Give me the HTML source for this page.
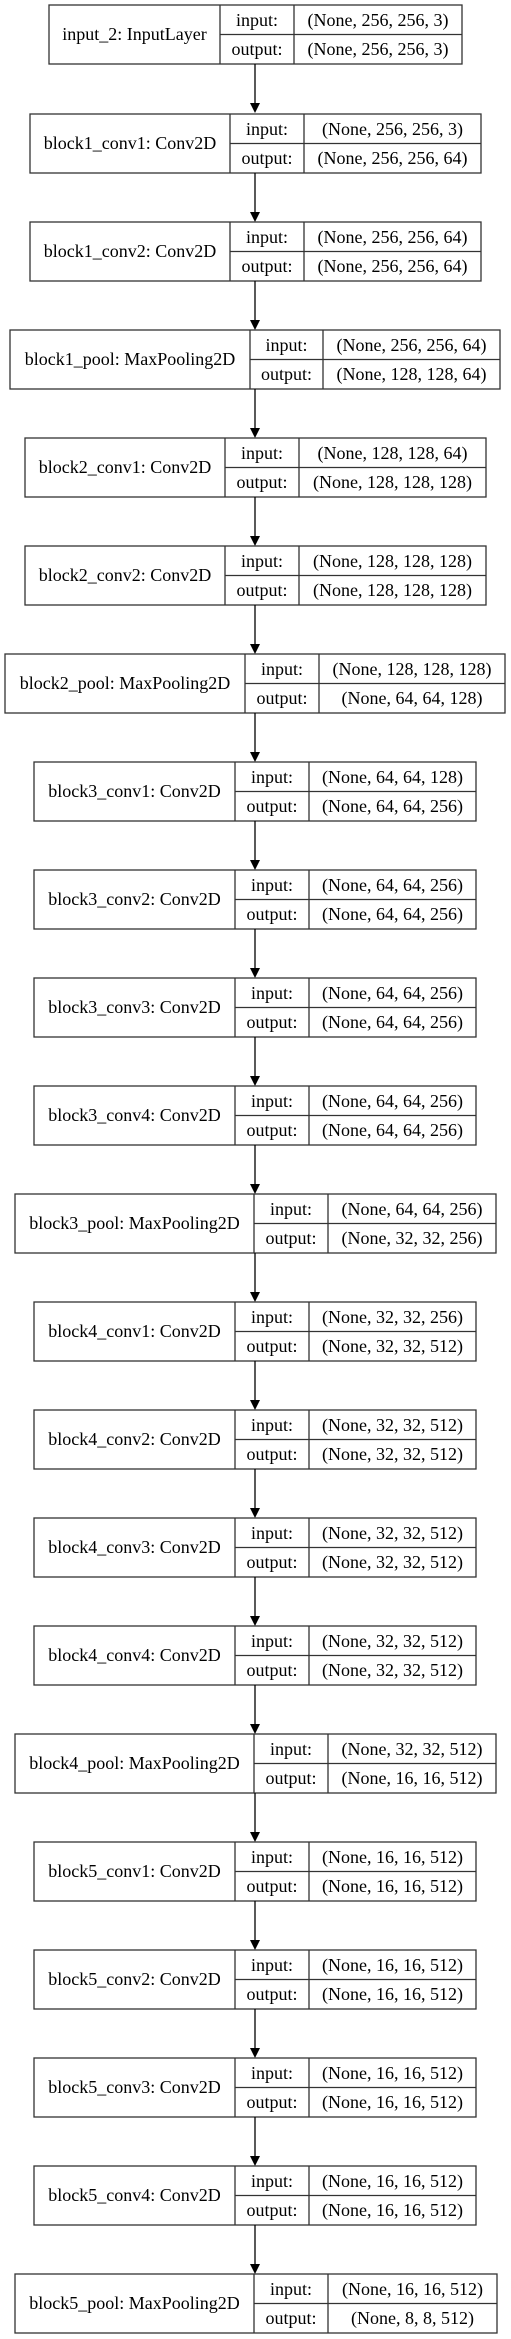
<!DOCTYPE html>
<html><head><meta charset="utf-8"><style>
html,body{margin:0;padding:0;background:#fff;}
svg{display:block;}
text{font-family:"Liberation Serif",serif;font-size:18px;fill:#000;text-anchor:middle;}
rect,line.b{fill:none;stroke:#333;stroke-width:1.3;}
line.a{stroke:#000;stroke-width:1.3;}
polygon{fill:#000;}
</style></head><body>
<svg width="511" height="2339" viewBox="0 0 511 2339" xmlns="http://www.w3.org/2000/svg">
<defs>
<g id="arrow"><line class="a" x1="255" y1="59" x2="255" y2="98"/><polygon points="250,98 260,98 255,108"/></g>
</defs>

<!-- 1 -->
<g transform="translate(0,5)">
<rect x="49" y="0" width="413" height="59"/><line class="b" x1="220" y1="0" x2="220" y2="59"/><line class="b" x1="294" y1="0" x2="294" y2="59"/><line class="b" x1="220" y1="29.5" x2="462" y2="29.5"/>
<text x="134.5" y="35">input_2: InputLayer</text><text x="257" y="21">input:</text><text x="257" y="50">output:</text>
<text x="378" y="21">(None, 256, 256, 3)</text><text x="378" y="50">(None, 256, 256, 3)</text>
<use href="#arrow"/></g>

<!-- 2 -->
<g transform="translate(0,114)">
<rect x="30" y="0" width="451" height="59"/><line class="b" x1="230" y1="0" x2="230" y2="59"/><line class="b" x1="304" y1="0" x2="304" y2="59"/><line class="b" x1="230" y1="29.5" x2="481" y2="29.5"/>
<text x="130" y="35">block1_conv1: Conv2D</text><text x="267" y="21">input:</text><text x="267" y="50">output:</text>
<text x="392.5" y="21">(None, 256, 256, 3)</text><text x="392.5" y="50">(None, 256, 256, 64)</text>
<use href="#arrow"/></g>

<!-- 3 -->
<g transform="translate(0,222)">
<rect x="30" y="0" width="451" height="59"/><line class="b" x1="230" y1="0" x2="230" y2="59"/><line class="b" x1="304" y1="0" x2="304" y2="59"/><line class="b" x1="230" y1="29.5" x2="481" y2="29.5"/>
<text x="130" y="35">block1_conv2: Conv2D</text><text x="267" y="21">input:</text><text x="267" y="50">output:</text>
<text x="392.5" y="21">(None, 256, 256, 64)</text><text x="392.5" y="50">(None, 256, 256, 64)</text>
<use href="#arrow"/></g>

<!-- 4 -->
<g transform="translate(0,330)">
<rect x="10" y="0" width="490" height="59"/><line class="b" x1="250" y1="0" x2="250" y2="59"/><line class="b" x1="323" y1="0" x2="323" y2="59"/><line class="b" x1="250" y1="29.5" x2="500" y2="29.5"/>
<text x="130" y="35">block1_pool: MaxPooling2D</text><text x="286.5" y="21">input:</text><text x="286.5" y="50">output:</text>
<text x="411.5" y="21">(None, 256, 256, 64)</text><text x="411.5" y="50">(None, 128, 128, 64)</text>
<use href="#arrow"/></g>

<!-- 5 -->
<g transform="translate(0,438)">
<rect x="25" y="0" width="461" height="59"/><line class="b" x1="225" y1="0" x2="225" y2="59"/><line class="b" x1="299" y1="0" x2="299" y2="59"/><line class="b" x1="225" y1="29.5" x2="486" y2="29.5"/>
<text x="125" y="35">block2_conv1: Conv2D</text><text x="262" y="21">input:</text><text x="262" y="50">output:</text>
<text x="392.5" y="21">(None, 128, 128, 64)</text><text x="392.5" y="50">(None, 128, 128, 128)</text>
<use href="#arrow"/></g>

<!-- 6 -->
<g transform="translate(0,546)">
<rect x="25" y="0" width="461" height="59"/><line class="b" x1="225" y1="0" x2="225" y2="59"/><line class="b" x1="299" y1="0" x2="299" y2="59"/><line class="b" x1="225" y1="29.5" x2="486" y2="29.5"/>
<text x="125" y="35">block2_conv2: Conv2D</text><text x="262" y="21">input:</text><text x="262" y="50">output:</text>
<text x="392.5" y="21">(None, 128, 128, 128)</text><text x="392.5" y="50">(None, 128, 128, 128)</text>
<use href="#arrow"/></g>

<!-- 7 -->
<g transform="translate(0,654)">
<rect x="5" y="0" width="500" height="59"/><line class="b" x1="245" y1="0" x2="245" y2="59"/><line class="b" x1="319" y1="0" x2="319" y2="59"/><line class="b" x1="245" y1="29.5" x2="505" y2="29.5"/>
<text x="125" y="35">block2_pool: MaxPooling2D</text><text x="282" y="21">input:</text><text x="282" y="50">output:</text>
<text x="412" y="21">(None, 128, 128, 128)</text><text x="412" y="50">(None, 64, 64, 128)</text>
<use href="#arrow"/></g>

<!-- 8 -->
<g transform="translate(0,762)">
<rect x="34" y="0" width="442" height="59"/><line class="b" x1="235" y1="0" x2="235" y2="59"/><line class="b" x1="309" y1="0" x2="309" y2="59"/><line class="b" x1="235" y1="29.5" x2="476" y2="29.5"/>
<text x="134.5" y="35">block3_conv1: Conv2D</text><text x="272" y="21">input:</text><text x="272" y="50">output:</text>
<text x="392.5" y="21">(None, 64, 64, 128)</text><text x="392.5" y="50">(None, 64, 64, 256)</text>
<use href="#arrow"/></g>

<!-- 9 -->
<g transform="translate(0,870)">
<rect x="34" y="0" width="442" height="59"/><line class="b" x1="235" y1="0" x2="235" y2="59"/><line class="b" x1="309" y1="0" x2="309" y2="59"/><line class="b" x1="235" y1="29.5" x2="476" y2="29.5"/>
<text x="134.5" y="35">block3_conv2: Conv2D</text><text x="272" y="21">input:</text><text x="272" y="50">output:</text>
<text x="392.5" y="21">(None, 64, 64, 256)</text><text x="392.5" y="50">(None, 64, 64, 256)</text>
<use href="#arrow"/></g>

<!-- 10 -->
<g transform="translate(0,978)">
<rect x="34" y="0" width="442" height="59"/><line class="b" x1="235" y1="0" x2="235" y2="59"/><line class="b" x1="309" y1="0" x2="309" y2="59"/><line class="b" x1="235" y1="29.5" x2="476" y2="29.5"/>
<text x="134.5" y="35">block3_conv3: Conv2D</text><text x="272" y="21">input:</text><text x="272" y="50">output:</text>
<text x="392.5" y="21">(None, 64, 64, 256)</text><text x="392.5" y="50">(None, 64, 64, 256)</text>
<use href="#arrow"/></g>

<!-- 11 -->
<g transform="translate(0,1086)">
<rect x="34" y="0" width="442" height="59"/><line class="b" x1="235" y1="0" x2="235" y2="59"/><line class="b" x1="309" y1="0" x2="309" y2="59"/><line class="b" x1="235" y1="29.5" x2="476" y2="29.5"/>
<text x="134.5" y="35">block3_conv4: Conv2D</text><text x="272" y="21">input:</text><text x="272" y="50">output:</text>
<text x="392.5" y="21">(None, 64, 64, 256)</text><text x="392.5" y="50">(None, 64, 64, 256)</text>
<use href="#arrow"/></g>

<!-- 12 -->
<g transform="translate(0,1194)">
<rect x="15" y="0" width="481" height="59"/><line class="b" x1="254" y1="0" x2="254" y2="59"/><line class="b" x1="328" y1="0" x2="328" y2="59"/><line class="b" x1="254" y1="29.5" x2="496" y2="29.5"/>
<text x="134.5" y="35">block3_pool: MaxPooling2D</text><text x="291" y="21">input:</text><text x="291" y="50">output:</text>
<text x="412" y="21">(None, 64, 64, 256)</text><text x="412" y="50">(None, 32, 32, 256)</text>
<use href="#arrow"/></g>

<!-- 13 -->
<g transform="translate(0,1302)">
<rect x="34" y="0" width="442" height="59"/><line class="b" x1="235" y1="0" x2="235" y2="59"/><line class="b" x1="309" y1="0" x2="309" y2="59"/><line class="b" x1="235" y1="29.5" x2="476" y2="29.5"/>
<text x="134.5" y="35">block4_conv1: Conv2D</text><text x="272" y="21">input:</text><text x="272" y="50">output:</text>
<text x="392.5" y="21">(None, 32, 32, 256)</text><text x="392.5" y="50">(None, 32, 32, 512)</text>
<use href="#arrow"/></g>

<!-- 14 -->
<g transform="translate(0,1410)">
<rect x="34" y="0" width="442" height="59"/><line class="b" x1="235" y1="0" x2="235" y2="59"/><line class="b" x1="309" y1="0" x2="309" y2="59"/><line class="b" x1="235" y1="29.5" x2="476" y2="29.5"/>
<text x="134.5" y="35">block4_conv2: Conv2D</text><text x="272" y="21">input:</text><text x="272" y="50">output:</text>
<text x="392.5" y="21">(None, 32, 32, 512)</text><text x="392.5" y="50">(None, 32, 32, 512)</text>
<use href="#arrow"/></g>

<!-- 15 -->
<g transform="translate(0,1518)">
<rect x="34" y="0" width="442" height="59"/><line class="b" x1="235" y1="0" x2="235" y2="59"/><line class="b" x1="309" y1="0" x2="309" y2="59"/><line class="b" x1="235" y1="29.5" x2="476" y2="29.5"/>
<text x="134.5" y="35">block4_conv3: Conv2D</text><text x="272" y="21">input:</text><text x="272" y="50">output:</text>
<text x="392.5" y="21">(None, 32, 32, 512)</text><text x="392.5" y="50">(None, 32, 32, 512)</text>
<use href="#arrow"/></g>

<!-- 16 -->
<g transform="translate(0,1626)">
<rect x="34" y="0" width="442" height="59"/><line class="b" x1="235" y1="0" x2="235" y2="59"/><line class="b" x1="309" y1="0" x2="309" y2="59"/><line class="b" x1="235" y1="29.5" x2="476" y2="29.5"/>
<text x="134.5" y="35">block4_conv4: Conv2D</text><text x="272" y="21">input:</text><text x="272" y="50">output:</text>
<text x="392.5" y="21">(None, 32, 32, 512)</text><text x="392.5" y="50">(None, 32, 32, 512)</text>
<use href="#arrow"/></g>

<!-- 17 -->
<g transform="translate(0,1734)">
<rect x="15" y="0" width="481" height="59"/><line class="b" x1="254" y1="0" x2="254" y2="59"/><line class="b" x1="328" y1="0" x2="328" y2="59"/><line class="b" x1="254" y1="29.5" x2="496" y2="29.5"/>
<text x="134.5" y="35">block4_pool: MaxPooling2D</text><text x="291" y="21">input:</text><text x="291" y="50">output:</text>
<text x="412" y="21">(None, 32, 32, 512)</text><text x="412" y="50">(None, 16, 16, 512)</text>
<use href="#arrow"/></g>

<!-- 18 -->
<g transform="translate(0,1842)">
<rect x="34" y="0" width="442" height="59"/><line class="b" x1="235" y1="0" x2="235" y2="59"/><line class="b" x1="309" y1="0" x2="309" y2="59"/><line class="b" x1="235" y1="29.5" x2="476" y2="29.5"/>
<text x="134.5" y="35">block5_conv1: Conv2D</text><text x="272" y="21">input:</text><text x="272" y="50">output:</text>
<text x="392.5" y="21">(None, 16, 16, 512)</text><text x="392.5" y="50">(None, 16, 16, 512)</text>
<use href="#arrow"/></g>

<!-- 19 -->
<g transform="translate(0,1950)">
<rect x="34" y="0" width="442" height="59"/><line class="b" x1="235" y1="0" x2="235" y2="59"/><line class="b" x1="309" y1="0" x2="309" y2="59"/><line class="b" x1="235" y1="29.5" x2="476" y2="29.5"/>
<text x="134.5" y="35">block5_conv2: Conv2D</text><text x="272" y="21">input:</text><text x="272" y="50">output:</text>
<text x="392.5" y="21">(None, 16, 16, 512)</text><text x="392.5" y="50">(None, 16, 16, 512)</text>
<use href="#arrow"/></g>

<!-- 20 -->
<g transform="translate(0,2058)">
<rect x="34" y="0" width="442" height="59"/><line class="b" x1="235" y1="0" x2="235" y2="59"/><line class="b" x1="309" y1="0" x2="309" y2="59"/><line class="b" x1="235" y1="29.5" x2="476" y2="29.5"/>
<text x="134.5" y="35">block5_conv3: Conv2D</text><text x="272" y="21">input:</text><text x="272" y="50">output:</text>
<text x="392.5" y="21">(None, 16, 16, 512)</text><text x="392.5" y="50">(None, 16, 16, 512)</text>
<use href="#arrow"/></g>

<!-- 21 -->
<g transform="translate(0,2166)">
<rect x="34" y="0" width="442" height="59"/><line class="b" x1="235" y1="0" x2="235" y2="59"/><line class="b" x1="309" y1="0" x2="309" y2="59"/><line class="b" x1="235" y1="29.5" x2="476" y2="29.5"/>
<text x="134.5" y="35">block5_conv4: Conv2D</text><text x="272" y="21">input:</text><text x="272" y="50">output:</text>
<text x="392.5" y="21">(None, 16, 16, 512)</text><text x="392.5" y="50">(None, 16, 16, 512)</text>
<use href="#arrow"/></g>

<!-- 22 -->
<g transform="translate(0,2274)">
<rect x="15" y="0" width="482" height="59"/><line class="b" x1="254" y1="0" x2="254" y2="59"/><line class="b" x1="328" y1="0" x2="328" y2="59"/><line class="b" x1="254" y1="29.5" x2="497" y2="29.5"/>
<text x="134.5" y="35">block5_pool: MaxPooling2D</text><text x="291" y="21">input:</text><text x="291" y="50">output:</text>
<text x="412.5" y="21">(None, 16, 16, 512)</text><text x="412.5" y="50">(None, 8, 8, 512)</text>
</g>
</svg>
</body></html>
